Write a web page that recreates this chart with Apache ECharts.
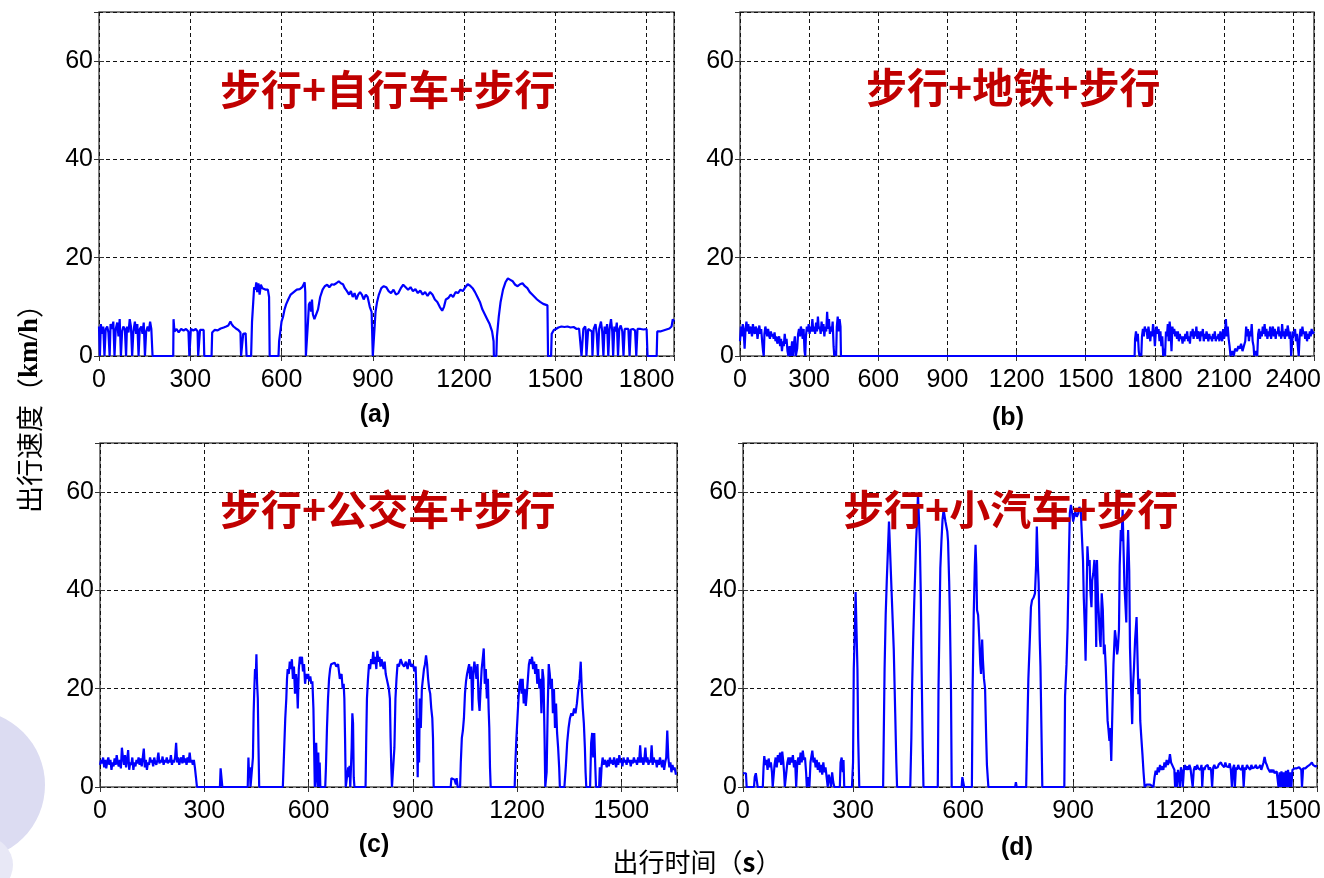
<!DOCTYPE html>
<html>
<head>
<meta charset="utf-8">
<title>出行速度</title>
<script src="https://cdn.jsdelivr.net/npm/echarts@6/dist/echarts.min.js"></script>
<style>
    html, body { margin: 0; padding: 0; background: #fff; }
    #chart { width: 1324px; height: 878px; }
</style>
</head>
<body>
<div id="chart"></div>
<script>
// 速度曲线数据 [时间(s), 速度(km/h)]
// (a) 步行+自行车+步行
var bikeTrip = [
    [0,6],[3,0],[6,6.5],[10,4.5],[14,6],[18,0],[22,5.5],[27,6],[31,4.8],[35,0],[38,6.5],[43,5.5],[47,7],[51,0],[55,5.5],[60,6.8],[64,4],[68,7.5],[72,0],[76,5],[80,6],[85,5.5],[89,0],[92,6],[97,4.8],[101,7.5],[105,6],[109,0],[113,5],[118,7],[122,4.5],[126,6.5],[130,0],[134,5.5],[139,6],[143,4.5],[147,6.8],[151,0],[155,5],[160,6],[164,5],[168,7],[172,5.5],[176,0],
    [244,0],[245,7.5],[248,5],[255,5.5],[262,4.8],[270,5.5],[278,5.2],[286,5.5],[294,5],[297,0],[300,0],[302,5.5],[310,5.2],[318,5.5],[324,5],[326,0],[330,0],[332,5.3],[338,5.5],[344,5.3],[346,0],[370,0],[372,4.8],[380,5.3],[390,5.2],[400,5.6],[410,5.8],[418,6],[425,6.2],[432,7],[436,6.5],[442,6],[450,5.6],[458,5.3],[465,4.8],[467,0],[472,0],[474,4.5],[482,4.6],[485,0],[500,0],
    [503,7],[507,11],[510,14],[514,13.5],[517,15],[520,13],[524,14.8],[528,12.5],[532,14.5],[537,13.8],[542,14],[548,13.5],[555,13.5],[559,12],[561,0],[590,0],[592,3],[596,5],[600,7],[605,8],[610,9.5],[615,10.5],[622,11.5],[630,12.5],[640,13],[650,13.5],[660,13.6],[668,14],[672,13.8],[676,15],[678,13],[680,0],[685,0],[687,7],[690,10.5],[694,11],[697,9],[700,11.5],[703,8.5],[708,7.5],[714,7.5],[720,9.5],[727,12],[735,13.5],[742,14.2],[750,14.5],[757,14],[765,14.6],[772,14.5],[780,14.8],[788,15.2],[795,14.8],[802,14.6],[808,13.8],[815,13.2],[822,12.5],[828,13.2],[834,12],[840,12.8],[846,11.5],[852,12.5],[858,13],[864,12.5],[870,11.5],[877,12.5],[883,12],[890,10],[896,9],[900,0],[906,0],
    [909,9],[914,11],[920,12.5],[928,13.8],[936,14.2],[944,14],[952,13.2],[960,12.8],[968,13.5],[976,12.5],[984,12.8],[992,13.8],[1000,14.5],[1008,14],[1016,13.5],[1024,14],[1032,13.2],[1040,13.6],[1048,12.8],[1056,13.3],[1064,12.5],[1072,13],[1080,12.2],[1088,13],[1096,12.5],[1104,11.5],[1112,11],[1120,10],[1128,9.2],[1134,10],[1140,11.5],[1148,11.8],[1156,12.5],[1164,12],[1172,13],[1180,12.8],[1188,13.5],[1196,13.2],[1204,14],[1212,14.6],[1220,14.3],[1228,13.8],[1236,13],[1244,12],[1252,11],[1260,9.5],[1268,8.5],[1276,7.5],[1284,6.5],[1292,5],[1297,3],[1298,0],[1306,0],
    [1308,4],[1314,8],[1320,11],[1328,13.5],[1336,15],[1344,15.8],[1352,15.5],[1360,15.2],[1368,14.5],[1376,14.2],[1384,14.6],[1392,14.8],[1400,14.2],[1408,13.8],[1416,13],[1424,12.5],[1432,12],[1440,11.5],[1450,11],[1460,10.6],[1474,10.3],[1476,0],[1486,0],
    [1488,4.5],[1495,5.3],[1502,5.5],[1510,5.8],[1520,6],[1530,5.9],[1540,6],[1550,5.8],[1560,5.9],[1570,5.5],[1578,5.6],[1584,5.5],[1586,0],[1590,0],[1592,5.5],[1598,6],[1600,5.2],[1602,0],[1606,0],[1608,5.5],[1614,5.8],[1620,5],[1622,0],[1626,5.5],[1632,6.5],[1636,4.5],[1640,0],[1644,5.5],[1650,7],[1654,5],[1658,0],[1662,6],[1666,4.5],[1670,6.5],[1674,0],[1678,5.5],[1683,7.5],[1687,5],[1690,0],[1694,6],[1698,5],[1702,6.8],[1706,0],[1710,5.5],[1715,6.2],[1720,5],[1724,0],[1728,5.5],[1734,5.8],[1740,5.5],[1744,0],[1748,5.4],[1755,5.5],[1762,5.2],[1766,0],[1770,5.5],[1780,5.5],[1790,5.4],[1800,5.5],[1803,0],[1833,0],[1835,5],[1845,5],[1855,5.2],[1865,5.4],[1875,5.6],[1882,6],[1886,7.5],[1890,7]
];

// (b) 步行+地铁+步行
var subwayTrip = [
    [0,3],[4,6],[8,4],[12,6.5],[16,5],[20,1.5],[24,5.5],[28,7],[32,5],[36,6.5],[40,4.5],[44,6],[48,5.5],[52,4],[56,6.5],[60,5],[64,4.5],[68,6],[72,5.5],[76,3.5],[80,5],[84,6.2],[88,4.5],[92,5.5],[96,3],[100,1],[103,0],[106,4.5],[110,6],[114,5],[118,4],[122,5.5],[126,4.2],[130,3.5],[134,5],[138,4],[142,4.5],[146,3.5],[150,4.8],[154,3],[158,4],[162,2.5],[166,3.5],[170,4],[174,2],[178,3.5],[182,1],[186,3],[190,2],[194,4.5],[198,2.5],[202,3.5],[206,1],[210,0],[215,2],[220,0],[226,3],[230,0],[234,2.5],[238,4],[242,0],[248,1.5],[252,4.5],[256,5.5],[260,4],[264,6],[268,5],[272,3.5],[276,5.5],[280,1],[283,0],[286,4],[290,6],[294,5],[298,6.5],[302,4.5],[306,6],[310,5],[314,7.5],[318,5],[322,6],[326,4.5],[330,6.8],[334,5],[338,8],[342,5.5],[346,6],[350,4.5],[354,7],[358,5],[362,6.5],[366,4],[370,6],[374,5],[378,9],[382,5.5],[386,7.5],[390,4.5],[394,6],[398,5],[402,7],[406,2],[409,0],[413,1],[417,0],[420,6],[424,8],[428,5],[432,7.5],[436,6],[438,0],
    [1712,0],[1714,3.5],[1718,5],[1722,3],[1726,4.5],[1730,1],[1733,0],[1738,0.5],[1741,0],[1744,4],[1748,5.5],[1752,4],[1756,6],[1760,5],[1764,5.5],[1768,3.5],[1772,6],[1776,4.5],[1780,3],[1784,5],[1788,4],[1792,6.5],[1796,5],[1800,2],[1804,5],[1808,6],[1812,4.5],[1816,5.5],[1820,3],[1824,5],[1828,2],[1832,4],[1836,0],[1840,1.5],[1844,0],[1848,5],[1852,4],[1856,6.5],[1860,3],[1864,7],[1868,5],[1872,1],[1876,6],[1880,4.5],[1884,5.5],[1888,4],[1892,5],[1896,3.5],[1900,5],[1904,3],[1908,4.5],[1912,3.5],[1916,4],[1920,2.5],[1924,4],[1928,3],[1932,4.5],[1936,3.5],[1940,5],[1944,3],[1948,4],[1952,2.5],[1956,5],[1960,4],[1964,5.5],[1968,3.5],[1972,5],[1976,4],[1980,6],[1984,3.5],[1988,5],[1992,4.5],[1996,3],[2000,5],[2004,4],[2008,5.5],[2012,3],[2016,4.5],[2020,3.5],[2024,5],[2028,4],[2032,3],[2036,4.5],[2040,3.5],[2044,4],[2048,3],[2052,4.5],[2056,3.5],[2060,5],[2064,3],[2068,4],[2072,3.5],[2076,4.5],[2080,3],[2084,5],[2088,4],[2092,3],[2096,5.5],[2100,3.5],[2104,4.5],[2108,7.5],[2112,4],[2116,6],[2120,3.5],[2124,2],[2128,0],[2136,1],[2142,0],[2148,1.5],[2156,1],[2162,2],[2168,1.5],[2174,2.5],[2180,1],[2186,2],[2192,3],[2196,6],[2200,4],[2204,5.5],[2208,3],[2212,5],[2216,4],[2220,6.5],[2224,3],[2228,2],[2231,0],[2238,1],[2244,0],[2248,4.5],[2252,5.5],[2256,3.5],[2260,5],[2264,4],[2268,6],[2272,4.5],[2276,6.5],[2280,4],[2284,5.5],[2288,3.5],[2292,5],[2296,4],[2300,6],[2304,3.5],[2308,5],[2312,6],[2316,4],[2320,5.5],[2324,3.5],[2328,5],[2332,4.5],[2336,6],[2340,4],[2344,5],[2348,3.5],[2352,6.5],[2356,4],[2360,5],[2364,3.5],[2368,5.5],[2372,4],[2376,6.2],[2380,5],[2384,3.5],[2388,5],[2391,0],[2396,3],[2400,5],[2404,4],[2408,5.5],[2412,3],[2416,4.5],[2420,2],[2424,0],[2428,4],[2432,5.5],[2436,4],[2440,6],[2444,4.5],[2448,5],[2452,3.5],[2456,5],[2460,3],[2464,4.5],[2468,3.5],[2472,5],[2476,4],[2480,5.5],[2484,4.5],[2490,5]
];

// (c) 步行+公交车+步行
var busTrip = [
    [0,4.5],[3,5.5],[6,4.8],[9,6],[12,4],[15,5.5],[18,3.8],[21,5.2],[24,6],[27,4.5],[30,5.5],[33,3.5],[36,5],[39,4.2],[42,5.8],[45,4.5],[48,6.5],[51,5],[54,4.2],[57,5.5],[60,3.8],[63,8],[66,6],[69,4.5],[72,6.5],[75,4],[78,5.5],[81,7.5],[84,3.5],[87,5],[90,4.5],[93,6],[96,3.5],[99,5],[102,4.2],[105,5.5],[108,4.8],[111,6],[114,4.5],[117,5.8],[120,4.2],[123,6],[126,7.8],[129,4],[132,5.5],[135,3.5],[138,5],[141,4.5],[144,6],[147,5],[150,5.5],[153,4.2],[156,6],[159,5],[162,4.5],[165,5.5],[168,7],[171,4.8],[174,5.5],[177,5],[180,6.2],[183,4.5],[186,5.5],[189,5],[192,6],[195,4.8],[198,5.5],[201,5],[204,6.5],[207,4.5],[210,5.5],[213,5],[216,6],[219,9],[222,5],[225,6],[228,4.5],[231,5.5],[234,6],[237,4.8],[240,6.5],[243,5],[246,5.8],[249,4.5],[252,6],[255,5],[258,7],[261,5],[264,5.5],[267,4.5],[270,5.5],[273,4],[276,2],[279,0],
    [345,0],[347,3.8],[350,3.8],[352,0],[425,0],[427,6],[429,2],[431,4],[433,0],[437,0],[440,6],[442,15],[444,20],[446,24],[448,22],[450,27],[452,21],[454,18],[456,8],[458,0],[526,0],
    [530,8],[533,14],[536,18],[538,22],[540,24],[543,23],[546,25.5],[549,24],[552,26],[555,22],[558,24.5],[561,19],[564,23],[567,20],[569,16],[572,24],[575,26.5],[578,25],[581,26.5],[584,23.5],[587,25],[590,21],[593,23],[596,22],[599,23],[602,21.5],[605,22.5],[608,21],[611,21.5],[614,16],[616,8],[618,0],[620,2],[622,9],[624,4],[626,0],[628,7],[630,0],[632,5],[634,0],[648,0],
    [650,4],[653,12],[656,18],[659,22],[662,24],[665,25],[670,25],[675,25.3],[680,24.5],[685,25],[690,22],[695,23],[698,20],[701,21],[703,18],[705,10],[707,0],[712,0],[714,4],[716,2],[718,4.3],[720,0],[724,8],[726,15],[728,13],[730,2],[732,0],[764,0],
    [766,10],[768,18],[771,22],[774,25],[777,24],[780,26],[783,25],[786,27.5],[789,25],[792,26.5],[795,24],[798,27.7],[801,25.5],[804,26.5],[807,24.5],[810,26],[813,25],[816,24],[819,25.5],[822,23],[825,22],[828,21],[831,20],[834,18],[836,10],[838,4],[840,0],[845,0],
    [847,8],[850,18],[853,22],[856,25],[860,24.5],[865,26],[870,25],[875,24.5],[880,25.5],[885,24],[890,26],[895,24.5],[900,25],[905,23.5],[908,24.5],[910,20],[912,10],[914,2],[916,14],[918,5],[920,18],[923,12],[926,20],[929,22],[932,24],[935,25],[938,26.8],[941,25],[944,22],[947,20],[950,19],[953,16],[956,14],[958,10],[960,0],[1009,0],[1011,1.8],[1016,2],[1020,1.5],[1024,0.5],[1026,1.8],[1029,0],[1036,0],
    [1038,5],[1041,10],[1044,11.5],[1047,14],[1050,19],[1053,21.5],[1056,23],[1059,24],[1062,25],[1065,22],[1068,24.5],[1071,15.5],[1074,23],[1077,25.5],[1080,24],[1083,22],[1086,25],[1089,18],[1092,15.5],[1095,20],[1098,24],[1101,26],[1104,28.2],[1107,21],[1110,24],[1113,18],[1116,22],[1118,16],[1120,12],[1122,4],[1124,0],[1193,0],
    [1195,5],[1198,10],[1201,14],[1204,18],[1207,21],[1210,22],[1213,19],[1216,22],[1219,17],[1222,20],[1225,16.5],[1228,19],[1231,22],[1234,25],[1237,26],[1240,25],[1243,26.5],[1246,24],[1249,25.5],[1252,23],[1255,25],[1258,21],[1261,24],[1264,20],[1267,22],[1270,15],[1273,24],[1276,22],[1279,10],[1281,0],[1285,3],[1288,16],[1291,25],[1294,23],[1297,20],[1300,22],[1303,15],[1306,20],[1309,12],[1312,17],[1315,11],[1318,8],[1321,4],[1323,0],[1336,0],
    [1340,4],[1344,9],[1348,12],[1352,14],[1356,15],[1360,14.5],[1364,16],[1368,15],[1372,17],[1376,20],[1380,22],[1383,25.5],[1386,20],[1389,16],[1392,13],[1395,8],[1397,3],[1399,0],[1410,0],[1413,9],[1416,11],[1419,6],[1422,11],[1425,4],[1427,0],[1436,0],[1438,4],[1440,0],
    [1443,4],[1446,6],[1449,4.5],[1452,5.5],[1455,5],[1458,4],[1461,5.5],[1464,4.2],[1467,6],[1470,4.8],[1473,5.5],[1476,4.5],[1479,6],[1482,5],[1485,4],[1488,5.8],[1491,4.5],[1494,6.5],[1497,5],[1500,5.5],[1503,4.2],[1506,6],[1509,5],[1512,5.5],[1515,4.5],[1518,6],[1521,5],[1524,5.5],[1527,4.2],[1530,5.5],[1533,4.8],[1536,6],[1539,5],[1542,5.5],[1545,4.5],[1548,6],[1551,5],[1554,8.5],[1557,5],[1560,6],[1563,4.5],[1566,5.5],[1569,8],[1572,5],[1575,6],[1578,4.5],[1581,5.5],[1584,5],[1587,8.5],[1590,4.5],[1593,6],[1596,5],[1599,5.5],[1602,4],[1605,5.5],[1608,4.5],[1611,6],[1614,5],[1617,4],[1620,5.5],[1623,3.5],[1626,5],[1629,6],[1632,11.5],[1635,6],[1638,4],[1641,5],[1644,3],[1647,4.5],[1650,3.5],[1653,4],[1657,2.5]
];

// (d) 步行+小汽车+步行
var carTrip = [
    [0,2.8],[4,2.5],[8,2.8],[10,0],[30,0],[32,2],[35,2.8],[38,2.5],[40,0],[54,0],[56,4],[58,6.3],[61,4.5],[64,5.5],[67,3.5],[70,5.8],[73,4],[76,5],[79,3],[81,0],[84,0],[86,4.5],[89,6],[92,4],[95,6.5],[98,5],[101,7],[104,4.5],[107,7.2],[110,5],[112,3],[114,0],[118,0],[121,5],[124,6],[127,4.5],[130,6],[133,5],[136,6.5],[139,4],[142,5.5],[145,0],[148,5],[151,6],[154,4.5],[157,7],[160,5],[163,7.4],[166,5.5],[169,6],[172,3],[174,0],[178,2],[181,0],[184,5],[187,6.5],[189,7.4],[192,5],[195,6],[198,4],[201,5.5],[204,3.5],[207,5],[210,3],[213,4.5],[216,2.5],[219,5],[222,3],[225,4],[228,2],[231,0],[234,2.5],[237,1.5],[240,0],[243,3],[246,1],[249,0],[264,0],[266,5],[269,6],[272,3],[274,5.5],[276,0],[297,0],
    [300,5],[302,24],[305,32],[307,39.7],[310,39.7],[312,24],[314,10],[317,0],[382,0],[384,12],[386,24],[389,35],[392,42],[395,48],[398,54],[400,50],[402,46],[405,40],[408,34],[411,28],[415,15],[418,5],[420,0],[456,0],[459,10],[461,20],[464,30],[467,38],[470,45],[472,50],[475,55],[477,59.5],[480,54],[482,50],[485,38],[487,24],[490,8],[492,0],[531,0],
    [533,20],[536,35],[538,44.5],[541,50],[544,54.4],[547,56.4],[549,56],[552,54],[554,53.7],[557,52],[559,50],[562,42],[564,35],[567,20],[569,0],[596,0],[598,2],[601,2],[603,0],[624,0],[626,20],[629,35],[632,45],[634,49.3],[636,45],[638,36],[641,35],[644,30.5],[647,25],[649,23],[652,30],[654,26],[657,22],[660,20],[663,10],[665,4.5],[669,0],[742,0],[744,1],[746,0],[772,0],
    [775,11.5],[778,22],[782,30],[785,36.6],[788,38],[792,38.5],[796,39.4],[799,45],[801,53],[804,45],[806,41.5],[809,30],[811,24.4],[814,10],[816,0],[876,0],
    [878,18.5],[882,25],[885,32.5],[888,45],[891,55.7],[894,57.4],[897,56],[900,54],[903,53.7],[906,56],[910,55],[914,55.7],[917,57],[919,57.2],[921,56],[924,55.7],[927,46],[929,38.7],[932,32],[934,25.7],[937,40],[939,49],[942,45],[945,46.2],[947,40],[950,36.6],[952,42],[955,43.5],[958,46.2],[960,44],[963,28.5],[965,46.2],[968,38],[970,35.3],[973,30],[975,28.5],[978,39.4],[981,36],[984,27],[986,29],[989,24.4],[991,20],[994,13.5],[996,12],[999,9.4],[1001,12],[1004,5.3],[1006,12],[1010,25],[1014,31.9],[1017,30],[1020,27],[1022,28],[1025,32],[1027,45],[1030,52.3],[1032,50],[1035,56.4],[1037,50],[1040,40.7],[1042,38],[1045,33.5],[1047,45],[1050,52.3],[1053,44],[1055,28.5],[1058,20],[1061,12.8],[1063,20],[1066,24.4],[1069,30],[1073,34.6],[1076,25],[1078,18.9],[1081,22],[1083,13.5],[1086,10],[1089,6.7],[1092,3],[1095,0],
    [1100,0.5],[1110,0.5],[1119,0],[1122,2],[1125,3.3],[1128,2.5],[1131,4],[1134,3],[1137,4.5],[1140,3.5],[1143,4.2],[1146,3.5],[1149,5],[1152,4],[1155,5.5],[1158,4.5],[1161,5],[1164,6.7],[1167,5],[1170,4.5],[1173,4],[1176,3.5],[1178,0],[1181,3],[1183,0],[1186,3.5],[1189,2],[1191,0],[1194,4],[1197,3],[1199,0],[1202,3.5],[1205,4.5],[1208,3.5],[1211,4.2],[1214,3.5],[1217,4.5],[1220,3.8],[1223,4],[1226,0],[1229,3.5],[1232,4.2],[1235,3.5],[1238,4.5],[1241,3.8],[1244,4],[1247,3.5],[1250,4.5],[1252,0],[1255,4],[1258,3.5],[1261,4.2],[1264,3.8],[1267,4.5],[1270,3.5],[1273,4],[1276,3.5],[1279,0],[1282,4],[1285,4.5],[1288,3.8],[1291,4.2],[1294,4],[1297,4.6],[1300,4.2],[1303,5],[1306,4.5],[1309,4.8],[1312,4],[1315,5],[1318,4.2],[1321,4.5],[1324,4],[1327,4.8],[1330,3.5],[1333,0],[1336,3.8],[1339,4.5],[1341,0],[1344,4],[1347,3.5],[1350,4.5],[1353,3.8],[1356,4.2],[1359,3.5],[1362,4.5],[1365,0],[1368,4],[1371,3.5],[1374,4.5],[1377,4],[1380,4.2],[1383,3.5],[1386,4.5],[1389,3.8],[1392,4.2],[1395,4],[1398,4.5],[1401,3.8],[1404,4.2],[1407,4],[1410,4.5],[1413,3.5],[1416,4.2],[1419,5],[1422,6.1],[1425,5],[1428,4.5],[1431,3.8],[1434,3.5],[1437,3],[1440,3.5],[1443,3],[1446,3.5],[1449,2.8],[1452,3],[1455,3.2],[1458,3],[1460,0],[1463,3],[1465,0],[1468,3.2],[1471,0],[1474,3],[1477,0],[1480,3.3],[1483,0],[1486,3.5],[1489,0],[1492,3],[1495,0],[1498,3.5],[1501,3.5],[1504,3.8],[1507,3.5],[1510,3.8],[1513,3.5],[1516,4],[1519,3.8],[1522,3.5],[1524,0],[1527,3.8],[1530,4],[1533,3.8],[1536,4],[1539,4.2],[1542,4],[1545,4.5],[1548,4.8],[1551,5],[1554,4.5],[1557,4.8],[1560,4.2],[1565,4.3]
];

var trips = [bikeTrip, subwayTrip, busTrip, carTrip];
var tripNames = ['步行+自行车+步行', '步行+地铁+步行', '步行+公交车+步行', '步行+小汽车+步行'];
var panelTags = ['(a)', '(b)', '(c)', '(d)'];
var timeMax = [1890, 2490, 1660, 1565];
var timeStep = 300;
var speedMax = 70;
var speedStep = 20;

// 版面位置
var grids = [
    { left: 99, top: 12, width: 575, height: 344 },
    { left: 740, top: 12, width: 576, height: 344 },
    { left: 100, top: 443, width: 577, height: 344 },
    { left: 743, top: 443, width: 575, height: 344 }
];
var titlePos = [[220, 69], [866, 67], [220, 489], [843, 489]];
var tagPos = [[375, 415], [1008, 418], [374, 845], [1017, 848]];

var tickFont = 'Liberation Sans, Arial, sans-serif';
var cjkFont = 'Noto Sans CJK SC, sans-serif';
var dashGrid = { type: [4, 3], color: '#111', width: 1 };

// 不要千分位
var plainNum = function (v) { return String(v); };

var xAxis = [], yAxis = [], series = [], title = [], graphic = [];

// 左下角背景装饰
graphic.push({
    type: 'circle', z: -10, silent: true,
    shape: { cx: -30, cy: 785, r: 75 },
    style: { fill: '#dcdcf2' }
});
graphic.push({
    type: 'circle', z: -9, silent: true,
    shape: { cx: -15, cy: 865, r: 28 },
    style: { fill: '#e8e8f6' }
});

for (var i = 0; i < 4; i++) {
    // 下/左为主轴, 上/右只画刻度
    xAxis.push({
        gridIndex: i, type: 'value', position: 'bottom',
        min: 0, max: timeMax[i], interval: timeStep,
        axisLine: { show: false },
        axisTick: { inside: true, length: 5, lineStyle: { color: '#333' } },
        axisLabel: { showMaxLabel: false, margin: 12, fontSize: 25, color: '#000', fontFamily: tickFont, formatter: plainNum },
        splitLine: { show: true, lineStyle: dashGrid }
    });
    xAxis.push({
        gridIndex: i, type: 'value', position: 'top',
        min: 0, max: timeMax[i], interval: timeStep,
        axisLine: { show: false },
        axisTick: { inside: true, length: 5, lineStyle: { color: '#333' } },
        axisLabel: { show: false },
        splitLine: { show: false }
    });
    yAxis.push({
        gridIndex: i, type: 'value', position: 'left',
        min: 0, max: speedMax, interval: speedStep,
        axisLine: { show: false },
        axisTick: { inside: true, length: 5, lineStyle: { color: '#333' } },
        axisLabel: { showMaxLabel: false, margin: 6, fontSize: 25, color: '#000', fontFamily: tickFont, formatter: plainNum },
        splitLine: { show: true, lineStyle: dashGrid }
    });
    yAxis.push({
        gridIndex: i, type: 'value', position: 'right',
        min: 0, max: speedMax, interval: speedStep,
        axisLine: { show: false },
        axisTick: { inside: true, length: 5, lineStyle: { color: '#333' } },
        axisLabel: { show: false },
        splitLine: { show: false }
    });

    series.push({
        name: tripNames[i],
        type: 'line',
        xAxisIndex: i * 2,
        yAxisIndex: i * 2,
        data: trips[i],
        symbol: 'none',
        clip: false,
        lineStyle: { color: '#0000ff', width: 2.2 }
    });

    title.push({
        text: tripNames[i],
        left: titlePos[i][0],
        top: titlePos[i][1],
        padding: 0,
        textStyle: { color: '#c00000', fontSize: 41, fontWeight: 'bold', fontFamily: cjkFont }
    });

    graphic.push({
        type: 'text',
        x: tagPos[i][0], y: tagPos[i][1],
        style: {
            text: panelTags[i],
            font: 'bold 25px ' + tickFont,
            fill: '#000',
            align: 'center',
            verticalAlign: 'middle'
        }
    });
}

// 坐标轴标题
graphic.push({
    type: 'text',
    x: 30, y: 402,
    rotation: Math.PI / 2,
    style: {
        text: '{c|出行速度（}{e|km/h}{c|）}',
        align: 'center',
        verticalAlign: 'middle',
        rich: {
            c: { fontSize: 27, fontFamily: cjkFont, fill: '#000' },
            e: { fontSize: 27, fontWeight: 'bold', fontFamily: 'Liberation Serif, serif', fill: '#000' }
        }
    }
});
graphic.push({
    type: 'text',
    x: 697, y: 862,
    style: {
        text: '{c|出行时间（}{e|s}{c|）}',
        align: 'center',
        verticalAlign: 'middle',
        rich: {
            c: { fontSize: 26, fontFamily: cjkFont, fill: '#000' },
            e: { fontSize: 26, fontWeight: 'bold', fontFamily: cjkFont, fill: '#000' }
        }
    }
});

var myChart = echarts.init(document.getElementById('chart'));
var option = {
    backgroundColor: '#fff',
    animation: false,
    title: title,
    grid: grids.map(function (g) {
        return {
            left: g.left, top: g.top, width: g.width, height: g.height,
            show: true, borderColor: '#555', borderWidth: 1.5
        };
    }),
    xAxis: xAxis,
    yAxis: yAxis,
    series: series,
    graphic: graphic
};
myChart.setOption(option);

window.onresize = function () {
    myChart.resize();
};
</script>
</body>
</html>
